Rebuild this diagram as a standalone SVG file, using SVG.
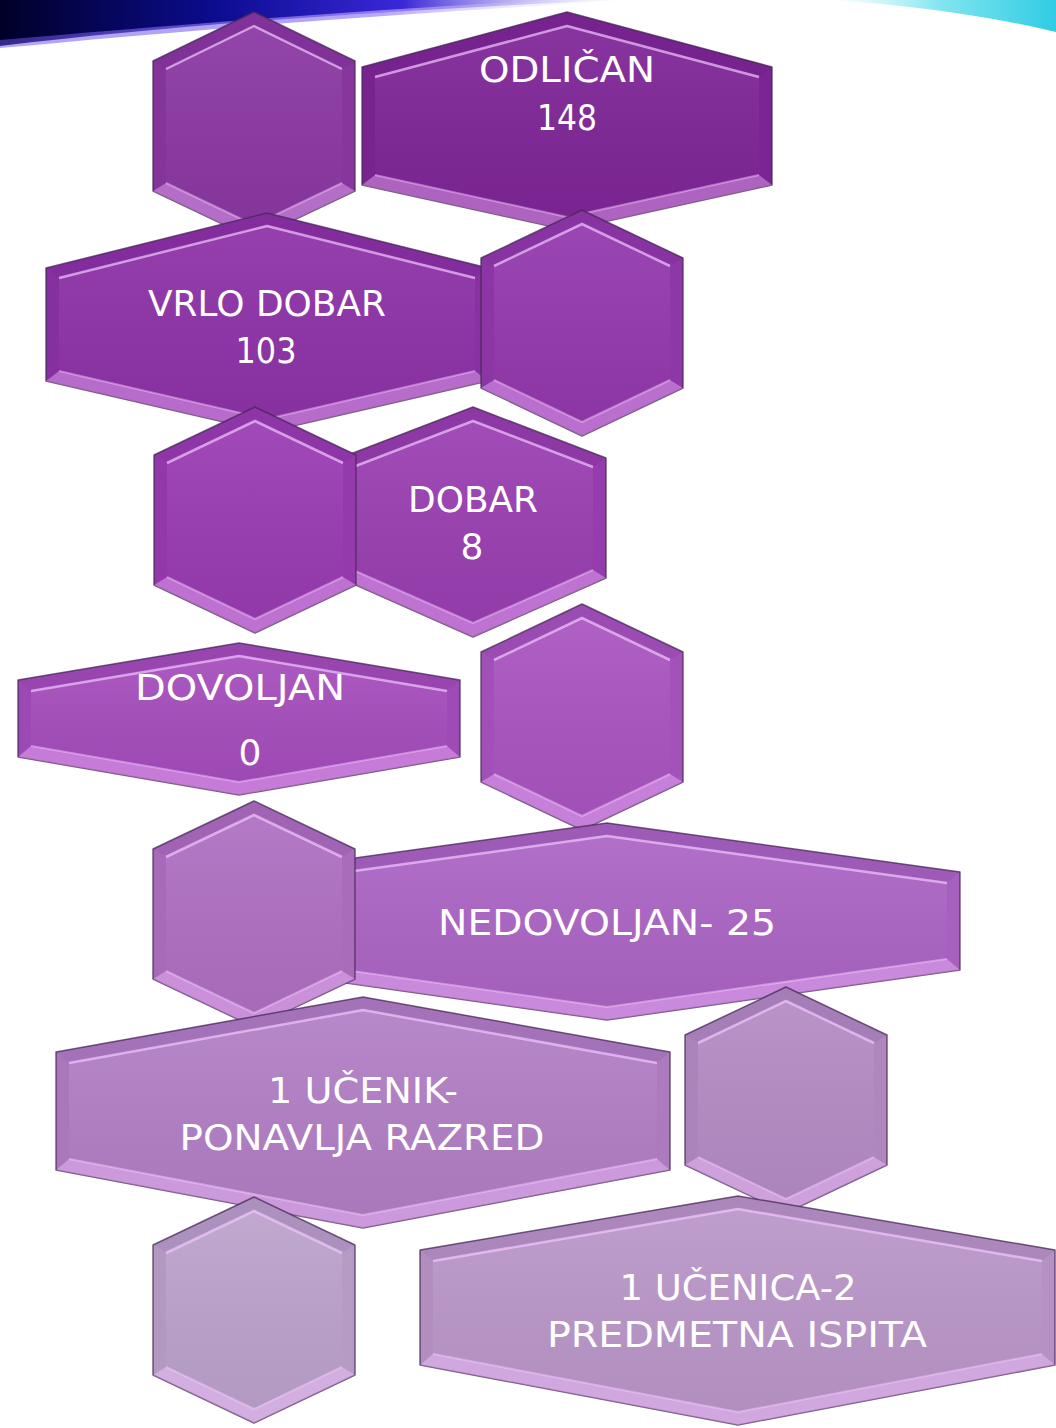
<svg xmlns="http://www.w3.org/2000/svg" width="1056" height="1428" viewBox="0 0 1056 1428">
<defs>
<linearGradient id="swL" x1="0" y1="0" x2="1" y2="0">
<stop offset="0" stop-color="#000028"/>
<stop offset="0.35" stop-color="#0c0c90"/>
<stop offset="0.65" stop-color="#3a28d8"/>
<stop offset="1" stop-color="#b0a0f0" stop-opacity="0"/>
</linearGradient>
<linearGradient id="swS" x1="0" y1="0" x2="1" y2="0">
<stop offset="0" stop-color="#6a50e8" stop-opacity="0.5"/>
<stop offset="0.6" stop-color="#a890f8" stop-opacity="0.8"/>
<stop offset="1" stop-color="#ffffff" stop-opacity="0"/>
</linearGradient>
<linearGradient id="swR" x1="0" y1="0" x2="1" y2="0">
<stop offset="0" stop-color="#a0f0f8" stop-opacity="0"/>
<stop offset="0.5" stop-color="#80e4f0"/>
<stop offset="1" stop-color="#30cce4"/>
</linearGradient>
<linearGradient id="face" x1="0" y1="0" x2="0" y2="1">
<stop offset="0" stop-color="#ffffff" stop-opacity="0.07"/>
<stop offset="1" stop-color="#000000" stop-opacity="0.05"/>
</linearGradient>
</defs>
<style>
.o{stroke:#4a2a58;stroke-opacity:.75;stroke-width:1.5;stroke-linejoin:round}
.bt{fill:#2a0040;fill-opacity:.10}
.bb{fill:#f4c0ff;fill-opacity:.40}
.bl{fill:#000;fill-opacity:.05}
.br{fill:#000;fill-opacity:.03}
.f{fill:url(#face)}
.hl{fill:none;stroke:#f2c8ff;stroke-opacity:.7;stroke-width:2.5;stroke-linejoin:round}
.hb{fill:none;stroke:#f8d0ff;stroke-opacity:.45;stroke-width:2;stroke-linejoin:round}
.t{font-family:"DejaVu Sans","Liberation Sans",sans-serif;font-size:36px;fill:#ffffff;text-anchor:middle}
</style>
<rect width="1056" height="1428" fill="#ffffff"/>
<g id="background">
<path d="M0,0 H620 C430,8 200,22 0,46 Z" fill="url(#swL)"/>
<path d="M0,48 C170,32 380,14 640,0 L560,0 C360,10 160,26 0,40 Z" fill="url(#swS)"/>
<path d="M830,0 H1056 V32 C990,16 910,5 830,0 Z" fill="url(#swR)"/>
</g>
<g id="connectors"/>
<g id="hex1">
<polygon class="o" fill="#8b38a3" points="254,12 355,61 355,191 254,239 153,191 153,61"/>
<polygon class="bt" points="153,61 254,12 355,61 342,69 254,26 166,69"/>
<polygon class="bb" points="153,191 254,239 355,191 342,183 254,225 166,183"/>
<polygon class="bl" points="153,61 166,69 166,183 153,191"/>
<polygon class="br" points="355,61 342,69 342,183 355,191"/>
<polygon class="f" points="166,69 254,26 342,69 342,183 254,225 166,183"/>
<polyline class="hl" points="166,69 254,26 342,69"/>
<polyline class="hb" points="166,183 254,225 342,183"/>
</g>
<g id="odlican">
<polygon class="o" fill="#7f2698" points="567,12 772,67 772,185 567,230 362,185 362,67"/>
<polygon class="bt" points="362,67 567,12 772,67 759,77 567,26 375,77"/>
<polygon class="bb" points="362,185 567,230 772,185 759,175 567,217 375,175"/>
<polygon class="bl" points="362,67 375,77 375,175 362,185"/>
<polygon class="br" points="772,67 759,77 759,175 772,185"/>
<polygon class="f" points="375,77 567,26 759,77 759,175 567,217 375,175"/>
<polyline class="hl" points="375,77 567,26 759,77"/>
<polyline class="hb" points="375,175 567,217 759,175"/>
<text class="t" x="567" y="82" textLength="176" lengthAdjust="spacingAndGlyphs">ODLIČAN</text>
<text class="t" x="567" y="130" textLength="60" lengthAdjust="spacingAndGlyphs">148</text>
</g>
<g id="vrlodobar">
<polygon class="o" fill="#8e32a8" points="267,213 488,268 488,381 267,432 46,381 46,268"/>
<polygon class="bt" points="46,268 267,213 488,268 475,278 267,226 59,278"/>
<polygon class="bb" points="46,381 267,432 488,381 475,371 267,419 59,371"/>
<polygon class="bl" points="46,268 59,278 59,371 46,381"/>
<polygon class="br" points="488,268 475,278 475,371 488,381"/>
<polygon class="f" points="59,278 267,226 475,278 475,371 267,419 59,371"/>
<polyline class="hl" points="59,278 267,226 475,278"/>
<polyline class="hb" points="59,371 267,419 475,371"/>
<text class="t" x="267" y="316" textLength="238" lengthAdjust="spacingAndGlyphs">VRLO DOBAR</text>
<text class="t" x="266" y="363" textLength="61" lengthAdjust="spacingAndGlyphs">103</text>
</g>
<g id="hex2">
<polygon class="o" fill="#9339ad" points="582,210 683,258 683,388 582,436 481,388 481,258"/>
<polygon class="bt" points="481,258 582,210 683,258 670,266 582,224 494,266"/>
<polygon class="bb" points="481,388 582,436 683,388 670,380 582,422 494,380"/>
<polygon class="bl" points="481,258 494,266 494,380 481,388"/>
<polygon class="br" points="683,258 670,266 670,380 683,388"/>
<polygon class="f" points="494,266 582,224 670,266 670,380 582,422 494,380"/>
<polyline class="hl" points="494,266 582,224 670,266"/>
<polyline class="hb" points="494,380 582,422 670,380"/>
</g>
<g id="dobar">
<polygon class="o" fill="#9a3fb2" points="473,407 606,458 606,578 473,637 340,578 340,458"/>
<polygon class="bt" points="340,458 473,407 606,458 593,467 473,421 353,467"/>
<polygon class="bb" points="340,578 473,637 606,578 593,570 473,623 353,570"/>
<polygon class="bl" points="340,458 353,467 353,570 340,578"/>
<polygon class="br" points="606,458 593,467 593,570 606,578"/>
<polygon class="f" points="353,467 473,421 593,467 593,570 473,623 353,570"/>
<polyline class="hl" points="353,467 473,421 593,467"/>
<polyline class="hb" points="353,570 473,623 593,570"/>
<text class="t" x="473" y="512" textLength="130" lengthAdjust="spacingAndGlyphs">DOBAR</text>
<text class="t" x="472" y="559">8</text>
</g>
<g id="hex3">
<polygon class="o" fill="#9a3cb3" points="255,407 356,455 356,585 255,633 154,585 154,455"/>
<polygon class="bt" points="154,455 255,407 356,455 343,463 255,421 167,463"/>
<polygon class="bb" points="154,585 255,633 356,585 343,577 255,619 167,577"/>
<polygon class="bl" points="154,455 167,463 167,577 154,585"/>
<polygon class="br" points="356,455 343,463 343,577 356,585"/>
<polygon class="f" points="167,463 255,421 343,463 343,577 255,619 167,577"/>
<polyline class="hl" points="167,463 255,421 343,463"/>
<polyline class="hb" points="167,577 255,619 343,577"/>
</g>
<g id="dovoljan">
<polygon class="o" fill="#a64dbd" points="239,643 460,680 460,757 239,795 18,757 18,680"/>
<polygon class="bt" points="18,680 239,643 460,680 447,691 239,656 31,691"/>
<polygon class="bb" points="18,757 239,795 460,757 447,746 239,782 31,746"/>
<polygon class="bl" points="18,680 31,691 31,746 18,757"/>
<polygon class="br" points="460,680 447,691 447,746 460,757"/>
<polygon class="f" points="31,691 239,656 447,691 447,746 239,782 31,746"/>
<polyline class="hl" points="31,691 239,656 447,691"/>
<polyline class="hb" points="31,746 239,782 447,746"/>
<text class="t" x="240" y="700" textLength="210" lengthAdjust="spacingAndGlyphs">DOVOLJAN</text>
<text class="t" x="250" y="765">0</text>
</g>
<g id="hex4">
<polygon class="o" fill="#a955c0" points="582,604 683,652 683,782 582,830 481,782 481,652"/>
<polygon class="bt" points="481,652 582,604 683,652 670,660 582,618 494,660"/>
<polygon class="bb" points="481,782 582,830 683,782 670,774 582,816 494,774"/>
<polygon class="bl" points="481,652 494,660 494,774 481,782"/>
<polygon class="br" points="683,652 670,660 670,774 683,782"/>
<polygon class="f" points="494,660 582,618 670,660 670,774 582,816 494,774"/>
<polyline class="hl" points="494,660 582,618 670,660"/>
<polyline class="hb" points="494,774 582,816 670,774"/>
</g>
<g id="nedovoljan">
<polygon class="o" fill="#ac65c5" points="607,823 960,872 960,970 607,1020 254,970 254,872"/>
<polygon class="bt" points="254,872 607,823 960,872 947,883 607,836 267,883"/>
<polygon class="bb" points="254,970 607,1020 960,970 947,959 607,1007 267,959"/>
<polygon class="bl" points="254,872 267,883 267,959 254,970"/>
<polygon class="br" points="960,872 947,883 947,959 960,970"/>
<polygon class="f" points="267,883 607,836 947,883 947,959 607,1007 267,959"/>
<polyline class="hl" points="267,883 607,836 947,883"/>
<polyline class="hb" points="267,959 607,1007 947,959"/>
<text class="t" x="607" y="935" textLength="338" lengthAdjust="spacingAndGlyphs">NEDOVOLJAN- 25</text>
</g>
<g id="hex5">
<polygon class="o" fill="#af70c2" points="254,801 355,849 355,979 254,1027 153,979 153,849"/>
<polygon class="bt" points="153,849 254,801 355,849 342,857 254,815 166,857"/>
<polygon class="bb" points="153,979 254,1027 355,979 342,971 254,1013 166,971"/>
<polygon class="bl" points="153,849 166,857 166,971 153,979"/>
<polygon class="br" points="355,849 342,857 342,971 355,979"/>
<polygon class="f" points="166,857 254,815 342,857 342,971 254,1013 166,971"/>
<polyline class="hl" points="166,857 254,815 342,857"/>
<polyline class="hb" points="166,971 254,1013 342,971"/>
</g>
<g id="ucenik">
<polygon class="o" fill="#b27fc6" points="363,997 670,1052 670,1170 363,1228 56,1170 56,1052"/>
<polygon class="bt" points="56,1052 363,997 670,1052 657,1063 363,1010 69,1063"/>
<polygon class="bb" points="56,1170 363,1228 670,1170 657,1159 363,1215 69,1159"/>
<polygon class="bl" points="56,1052 69,1063 69,1159 56,1170"/>
<polygon class="br" points="670,1052 657,1063 657,1159 670,1170"/>
<polygon class="f" points="69,1063 363,1010 657,1063 657,1159 363,1215 69,1159"/>
<polyline class="hl" points="69,1063 363,1010 657,1063"/>
<polyline class="hb" points="69,1159 363,1215 657,1159"/>
<text class="t" x="363" y="1103" textLength="190" lengthAdjust="spacingAndGlyphs">1 UČENIK-</text>
<text class="t" x="362" y="1150" textLength="365" lengthAdjust="spacingAndGlyphs">PONAVLJA RAZRED</text>
</g>
<g id="hex6">
<polygon class="o" fill="#b48cc5" points="786,987 887,1035 887,1165 786,1213 685,1165 685,1035"/>
<polygon class="bt" points="685,1035 786,987 887,1035 874,1043 786,1001 698,1043"/>
<polygon class="bb" points="685,1165 786,1213 887,1165 874,1157 786,1199 698,1157"/>
<polygon class="bl" points="685,1035 698,1043 698,1157 685,1165"/>
<polygon class="br" points="887,1035 874,1043 874,1157 887,1165"/>
<polygon class="f" points="698,1043 786,1001 874,1043 874,1157 786,1199 698,1157"/>
<polyline class="hl" points="698,1043 786,1001 874,1043"/>
<polyline class="hb" points="698,1157 786,1199 874,1157"/>
</g>
<g id="ucenica">
<polygon class="o" fill="#ba97ca" points="738,1196 1055,1250 1055,1365 738,1425 420,1365 420,1250"/>
<polygon class="bt" points="420,1250 738,1196 1055,1250 1042,1261 738,1209 433,1261"/>
<polygon class="bb" points="420,1365 738,1425 1055,1365 1042,1354 738,1412 433,1354"/>
<polygon class="bl" points="420,1250 433,1261 433,1354 420,1365"/>
<polygon class="br" points="1055,1250 1042,1261 1042,1354 1055,1365"/>
<polygon class="f" points="433,1261 738,1209 1042,1261 1042,1354 738,1412 433,1354"/>
<polyline class="hl" points="433,1261 738,1209 1042,1261"/>
<polyline class="hb" points="433,1354 738,1412 1042,1354"/>
<text class="t" x="738" y="1300" textLength="237" lengthAdjust="spacingAndGlyphs">1 UČENICA-2</text>
<text class="t" x="737" y="1347" textLength="380" lengthAdjust="spacingAndGlyphs">PREDMETNA ISPITA</text>
</g>
<g id="hex7">
<polygon class="o" fill="#bca2cc" points="254,1197 355,1245 355,1375 254,1423 153,1375 153,1245"/>
<polygon class="bt" points="153,1245 254,1197 355,1245 342,1253 254,1211 166,1253"/>
<polygon class="bb" points="153,1375 254,1423 355,1375 342,1367 254,1409 166,1367"/>
<polygon class="bl" points="153,1245 166,1253 166,1367 153,1375"/>
<polygon class="br" points="355,1245 342,1253 342,1367 355,1375"/>
<polygon class="f" points="166,1253 254,1211 342,1253 342,1367 254,1409 166,1367"/>
<polyline class="hl" points="166,1253 254,1211 342,1253"/>
<polyline class="hb" points="166,1367 254,1409 342,1367"/>
</g>
</svg>
